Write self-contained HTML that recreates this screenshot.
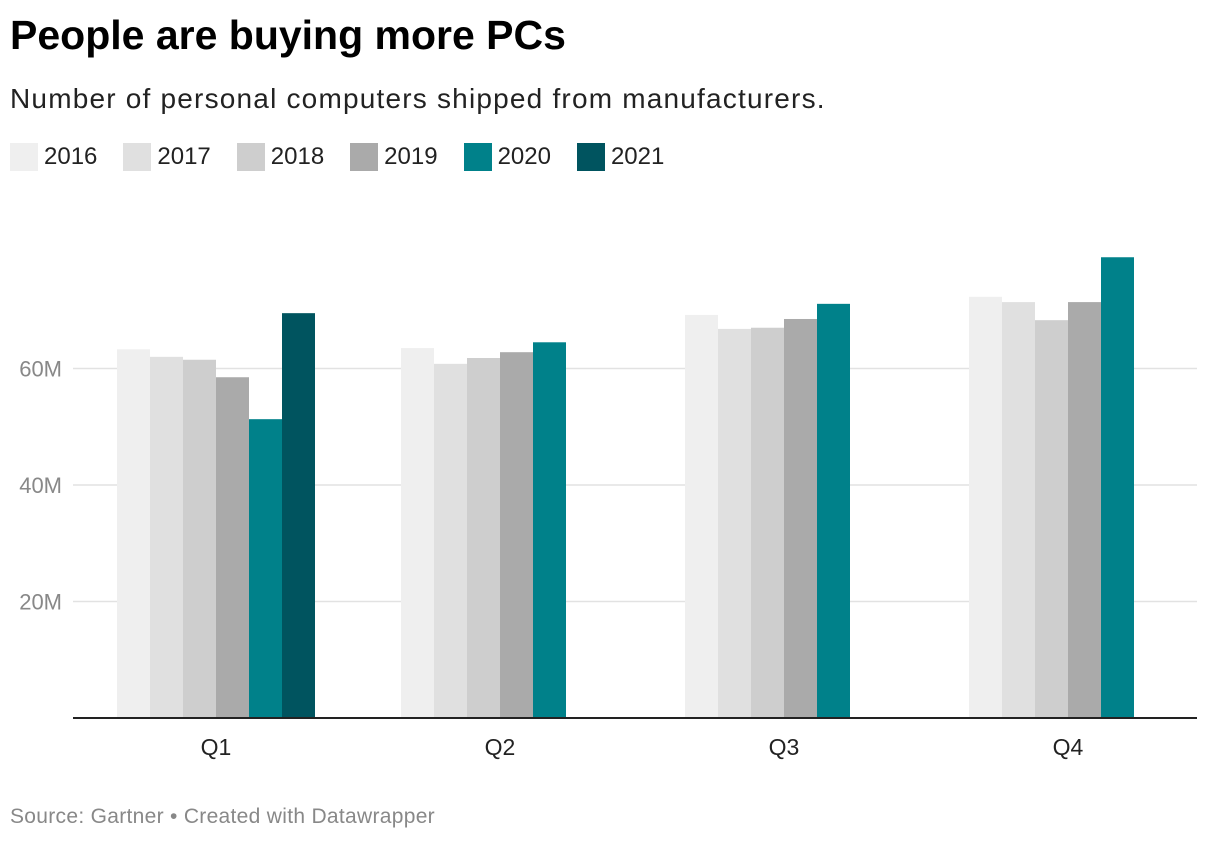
<!DOCTYPE html>
<html><head><meta charset="utf-8">
<style>
body{margin:0;width:1220px;height:842px;background:#fff;font-family:"Liberation Sans",Roboto,sans-serif;overflow:hidden;position:relative}
#title{position:absolute;left:10px;top:12px;font-size:41px;font-weight:bold;color:#000;letter-spacing:0px}
#sub{position:absolute;left:10px;top:83px;font-size:28px;color:#222;letter-spacing:1.2px}
#legend{position:absolute;left:10px;top:143px;font-size:24px;color:#222;display:flex}
.li{display:flex;align-items:center;margin-right:26px}
.sw{width:28px;height:28px;margin-right:6px}
#src{position:absolute;left:10px;top:805px;font-size:21px;color:#888;letter-spacing:0.3px}
svg{position:absolute;left:0;top:0}
</style></head><body>
<div id="title">People are buying more PCs</div>
<div id="sub">Number of personal computers shipped from manufacturers.</div>
<div id="legend"></div>
<svg id="chart" width="1220" height="842"></svg>
<div id="src">Source: Gartner • Created with Datawrapper</div>
<script>
const categories=["Q1","Q2","Q3","Q4"];
const years=["2016","2017","2018","2019","2020","2021"];
const colors=["#efefef","#e0e0e0","#cecece","#aaaaaa","#00818a","#00545f"];
const v2016=[63.3,63.5,69.2,72.3];
const v2017=[62.0,60.8,66.8,71.4];
const v2018=[61.5,61.8,67.0,68.3];
const v2019=[58.5,62.8,68.5,71.4];
const v2020=[51.3,64.5,71.1,79.1];
const v2021=[69.5,null,null,null];
const ticks=[20,40,60];
const tickLabels=["20M","40M","60M"];
const series=[v2016,v2017,v2018,v2019,v2020,v2021];
const NS="http://www.w3.org/2000/svg";
const svg=document.getElementById('chart');
const y0=718,pxPer=5.825;
const y=v=>y0-v*pxPer;
const xc=i=>216+284*i;
function mk(t,a){const e=document.createElementNS(NS,t);for(const k in a)e.setAttribute(k,a[k]);svg.appendChild(e);return e;}
ticks.forEach((t,i)=>{
 const l=mk('line',{x1:73,x2:1197,y1:y(t),y2:y(t),stroke:'#e2e2e2','stroke-width':1.5});
 
 
 const tx=mk('text',{x:62,y:y(t)+8,'text-anchor':'end','font-size':22,fill:'#888','font-family':'Liberation Sans, sans-serif'});
 tx.textContent=tickLabels[i];
 
 
});
categories.forEach((c,i)=>{
 series.forEach((s,j)=>{
  if(s[i]==null)return;
  const r=mk('rect',{x:xc(i)-99+33*j,y:y(s[i]),width:33,height:s[i]*pxPer,fill:colors[j]});
  
  
 });
 const t=mk('text',{x:xc(i),y:755,'text-anchor':'middle','font-size':23,fill:'#222','font-family':'Liberation Sans, sans-serif'});
 t.textContent=c;
 
 
});
const ax=mk('line',{x1:73,x2:1197,y1:y0,y2:y0,stroke:'#222','stroke-width':2});


const lg=document.getElementById('legend');
years.forEach((yr,j)=>{
 const d=document.createElement('div');d.className='li';
 
 
 d.innerHTML='<div class="sw" style="background:'+colors[j]+'"></div>'+yr;
 lg.appendChild(d);
});
</script>
</body></html>
